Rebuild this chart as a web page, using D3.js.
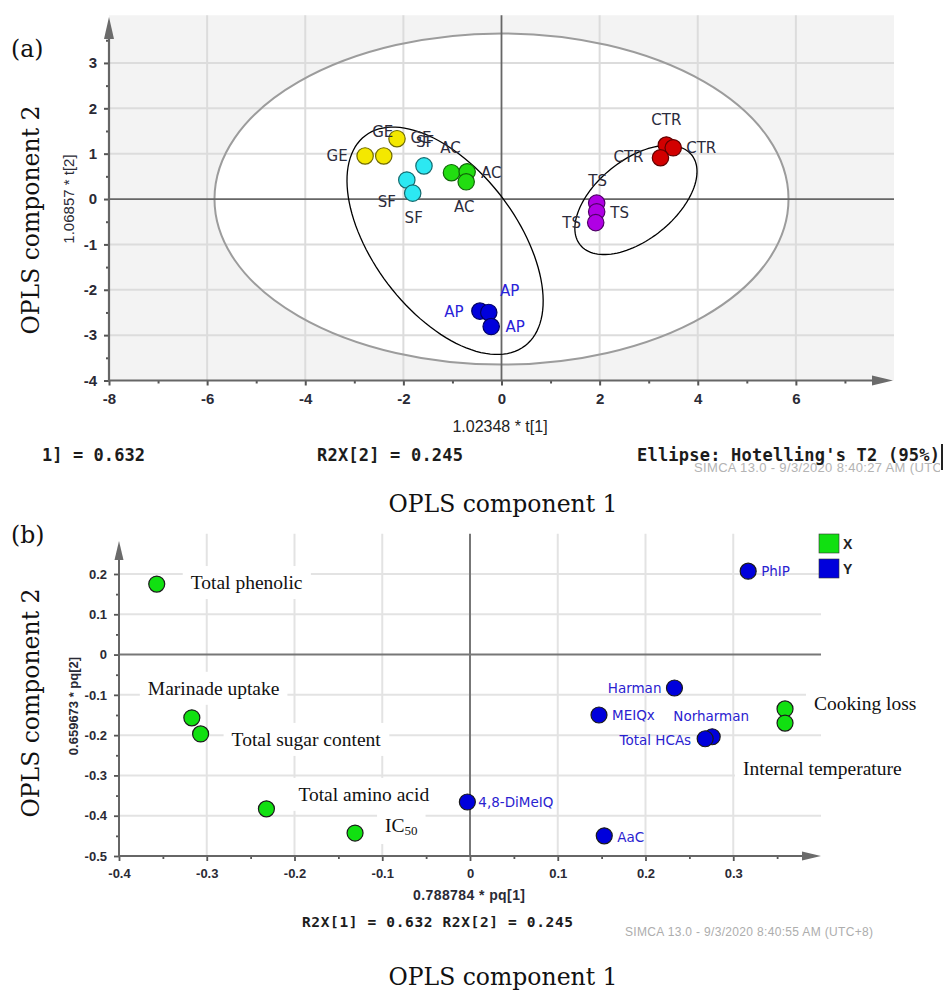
<!DOCTYPE html>
<html><head><meta charset="utf-8">
<script src="https://cdn.jsdelivr.net/npm/d3@7"></script>
<style>body{margin:0;background:#fff} svg{display:block}</style>
</head><body>
<svg id="chart" width="946" height="990"></svg>
<script>
// ---------- Panel (a): OPLS scores ----------
const scoreGroups = ["GE","GE","GE","SF","SF","SF","AC","AC","AC","CTR","CTR","CTR","TS","TS","TS","AP","AP","AP"];
const scoreT1 = [-2.78,-2.40,-2.13,-1.93,-1.81,-1.58,-1.02,-0.70,-0.72,3.36,3.50,3.24,1.94,1.94,1.92,-0.44,-0.26,-0.21];
const scoreT2 = [0.95,0.95,1.33,0.42,0.13,0.73,0.58,0.60,0.38,1.19,1.13,0.91,-0.09,-0.28,-0.52,-2.47,-2.50,-2.81];
const groupNames = ["GE","SF","AC","CTR","TS","AP"];
const groupColors = ["#f4e800","#2ce8f2","#22dd11","#d20000","#b000e4","#0000dc"];
const xTicksA = [-8,-6,-4,-2,0,2,4,6];
const xMinorA = [-7,-5,-3,-1,1,3,5,7];
const yTicksA = [-4,-3,-2,-1,0,1,2,3];
const yMinorA = [-3.5,-2.5,-1.5,-0.5,0.5,1.5,2.5,3.5];
const hotelling = {rx: 5.85, ry: 3.65};

// ---------- Panel (b): OPLS loadings ----------
const loadingNames = ["Total phenolic","Marinade uptake","Total sugar content","Total amino acid","IC50","Cooking loss","Internal temperature",
  "PhIP","Harman","MEIQx","Norharman","Total HCAs","4,8-DiMeIQ","AaC"];
const loadingType = ["X","X","X","X","X","X","X","Y","Y","Y","Y","Y","Y","Y"];
const pq1 = [-0.357,-0.317,-0.307,-0.232,-0.131,0.359,0.359,0.317,0.233,0.147,0.276,0.268,-0.003,0.153];
const pq2 = [0.175,-0.157,-0.197,-0.383,-0.443,-0.135,-0.170,0.207,-0.083,-0.150,-0.204,-0.209,-0.366,-0.450];
const legendKeys = ["X","Y"];
const legendColors = ["#11e011","#0000dc"];
const xTicksB = [-0.4,-0.3,-0.2,-0.1,0,0.1,0.2,0.3];
const xMinorB = [-0.35,-0.25,-0.15,-0.05,0.05,0.15,0.25,0.35];
const yTicksB = [-0.5,-0.4,-0.3,-0.2,-0.1,0,0.1,0.2];
const yMinorB = [-0.45,-0.35,-0.25,-0.15,-0.05,0.05,0.15,0.25];

// ---------- layout (label placement, annotation ellipses) ----------
const scoreLabelOffsets = [[-28,0],[-1,-24],[24,-1],[-20,22],[1,25],[1,-24],[-1,-25],[24,1],[-2,25],
  [0,-25],[28,0],[-32,-1],[1,-22],[23,1],[-24,0],[-26,1],[21,-21],[24,0]];
const groupEllipses = [{cx:-1.15, cy:-0.92, a:2.69, b:1.46, angle:52.8},{cx:2.74, cy:-0.02, a:1.46, b:0.81, angle:-38.9}];
// [dx, dy, anchor]
const loadingLabelPos = [[34,5,"start"],[-44,-23,"start"],[31,12,"start"],[32,-8,"start"],[30,-1,"start"],[29,1,"start"],[-42,52,"start"],
  [13,0,"start"],[-13,0,"end"],[13,0,"start"],[-1,-21,"middle"],[-14,1,"end"],[11,0,"start"],[13,1,"start"]];

const svg = d3.select("#chart");
const serif = "'DejaVu Serif', serif";
const sans = "'DejaVu Sans', sans-serif";
const lsans = "'Liberation Sans', Arial, sans-serif";
const mono = "'DejaVu Sans Mono', monospace";

function arrowUp(g, x, y, len, hw){ g.append("path").attr("d",`M${x},${y}L${x-hw},${y+len}L${x+hw},${y+len}Z`).attr("fill","#6b6b6b"); }
function arrowRight(g, x, y, len, hw){ g.append("path").attr("d",`M${x},${y}L${x-len},${y-hw}L${x-len},${y+hw}Z`).attr("fill","#6b6b6b"); }
function ellipsePath(xs, ys, e){
  const kx = xs(1)-xs(0), ky = ys(0)-ys(1);
  const cx = xs(e.cx), cy = ys(e.cy), a = e.a*kx, b = e.b*kx, th = e.angle*Math.PI/180;
  const pts = d3.range(0, 361, 3).map(t=>{ const r=t*Math.PI/180; const u=a*Math.cos(r), v=b*Math.sin(r);
    return [cx+u*Math.cos(th)-v*Math.sin(th), cy+u*Math.sin(th)+v*Math.cos(th)]; });
  return d3.line()(pts)+"Z";
}

// =============== PANEL A ===============
const xA = d3.scaleLinear().domain([-8, 8]).range([109, 894]);
const yA = d3.scaleLinear().domain([-4, 4.05]).range([380.5, 15.3]);
const gA = svg.append("g");
gA.append("rect").attr("x",xA(-8)).attr("y",yA(4.05)).attr("width",xA(8)-xA(-8)).attr("height",yA(-4)-yA(4.05)).attr("fill","#f3f3f3");
gA.append("ellipse").attr("cx",xA(0)).attr("cy",yA(0)).attr("rx",xA(hotelling.rx)-xA(0)).attr("ry",yA(0)-yA(hotelling.ry)).attr("fill","#fff");
// grid
gA.selectAll(".gx").data(xTicksA.filter(d=>d!==0&&d!==-8)).join("line")
  .attr("x1",d=>xA(d)).attr("x2",d=>xA(d)).attr("y1",yA(4.05)).attr("y2",yA(-4)).attr("stroke","#dcdcdc").attr("stroke-width",2);
gA.selectAll(".gy").data(yTicksA.filter(d=>d!==0&&d!==-4)).join("line")
  .attr("x1",xA(-8)).attr("x2",xA(8)).attr("y1",d=>yA(d)).attr("y2",d=>yA(d)).attr("stroke","#dcdcdc").attr("stroke-width",2);
gA.append("ellipse").attr("cx",xA(0)).attr("cy",yA(0)).attr("rx",xA(hotelling.rx)-xA(0)).attr("ry",yA(0)-yA(hotelling.ry))
  .attr("fill","none").attr("stroke","#9c9c9c").attr("stroke-width",2);
// zero lines
gA.append("line").attr("x1",xA(0)).attr("x2",xA(0)).attr("y1",yA(4.05)).attr("y2",yA(-4)).attr("stroke","#666").attr("stroke-width",1.8);
gA.append("line").attr("x1",xA(-8)).attr("x2",xA(8)).attr("y1",yA(0)).attr("y2",yA(0)).attr("stroke","#666").attr("stroke-width",1.8);
// group ellipses
gA.selectAll(".ge").data(groupEllipses).join("path").attr("d",e=>ellipsePath(xA,yA,e))
  .attr("fill","none").attr("stroke","#000").attr("stroke-width",1.3);
// axes
const axA = gA.append("g");
const axXA = axA.append("g").attr("transform",`translate(0,${yA(-4)})`)
  .call(d3.axisBottom(xA).tickValues(xTicksA).tickSize(5).tickPadding(8).tickFormat(d=>String(d)));
const axXAm = axA.append("g").attr("transform",`translate(0,${yA(-4)})`).call(d3.axisBottom(xA).tickValues(xMinorA).tickSize(3).tickFormat(""));
const axYA = axA.append("g").attr("transform",`translate(${xA(-8)},0)`)
  .call(d3.axisLeft(yA).tickValues(yTicksA).tickSize(5).tickPadding(7).tickFormat(d=>String(d)));
const axYAm = axA.append("g").attr("transform",`translate(${xA(-8)},0)`).call(d3.axisLeft(yA).tickValues(yMinorA).tickSize(3).tickFormat(""));
[axXA,axXAm,axYA,axYAm].forEach(a=>{ a.select(".domain").remove(); a.selectAll("line").attr("stroke","#555").attr("stroke-width",2);
  a.selectAll("text").attr("font-family",lsans).attr("font-weight","bold").attr("font-size",15).attr("fill","#2a2a35"); });
axA.append("line").attr("x1",xA(-8)).attr("x2",xA(-8)).attr("y1",yA(-4)+1).attr("y2",35).attr("stroke","#666").attr("stroke-width",2.2);
arrowUp(axA, xA(-8), 17, 22, 5);
axA.append("line").attr("x1",xA(-8)-1).attr("x2",875).attr("y1",yA(-4)).attr("y2",yA(-4)).attr("stroke","#666").attr("stroke-width",2.2);
arrowRight(axA, 893, yA(-4), 21, 5);
// points
const scoreIdx = d3.range(scoreT1.length);
gA.selectAll(".pt").data(scoreIdx).join("circle")
  .attr("cx",i=>xA(scoreT1[i])).attr("cy",i=>yA(scoreT2[i])).attr("r",8.2)
  .attr("fill",i=>groupColors[groupNames.indexOf(scoreGroups[i])])
  .attr("stroke",i=>d3.color(groupColors[groupNames.indexOf(scoreGroups[i])]).darker(2.2)).attr("stroke-width",1.2);
gA.selectAll(".lb").data(scoreIdx).join("text")
  .attr("x",i=>xA(scoreT1[i])+scoreLabelOffsets[i][0]).attr("y",i=>yA(scoreT2[i])+scoreLabelOffsets[i][1])
  .attr("text-anchor","middle").attr("dominant-baseline","central")
  .attr("font-family",sans).attr("font-size",15)
  .attr("fill",i=>scoreGroups[i]==="AP"?"#2a22d8":"#2c2c3c").text(i=>scoreGroups[i]);
// axis titles & footer A
gA.append("text").attr("x",500).attr("y",432).attr("text-anchor","middle").attr("font-family",lsans).attr("font-size",16).attr("fill","#222").text("1.02348 * t[1]");
gA.append("text").attr("transform",`translate(74,${yA(0)}) rotate(-90)`).attr("text-anchor","middle").attr("font-family",lsans).attr("font-size",15).attr("fill","#2a2a35").text("1.06857 * t[2]");
gA.append("text").attr("x",42).attr("y",461).attr("font-family",mono).attr("font-weight","bold").attr("font-size",17).attr("textLength",103).attr("fill","#1c1c1c").text("1] = 0.632");
gA.append("text").attr("x",317).attr("y",461).attr("font-family",mono).attr("font-weight","bold").attr("font-size",17).attr("textLength",146).attr("fill","#1c1c1c").text("R2X[2] = 0.245");
svg.append("clipPath").attr("id","clipSim").append("rect").attr("x",0).attr("y",0).attr("width",940).attr("height",990);
gA.append("text").attr("x",694).attr("y",472).attr("clip-path","url(#clipSim)").attr("font-family",lsans).attr("font-size",13).attr("textLength",268).attr("fill","#b3b3b3").text("SIMCA 13.0 - 9/3/2020 8:40:27 AM (UTC+8)");
gA.append("text").attr("x",637).attr("y",461).attr("font-family",mono).attr("font-weight","bold").attr("font-size",17).attr("textLength",303).attr("fill","#1c1c1c").text("Ellipse: Hotelling's T2 (95%)");
gA.append("line").attr("x1",942).attr("x2",942).attr("y1",444).attr("y2",470).attr("stroke","#222").attr("stroke-width",2);

// =============== PANEL B ===============
const xB = d3.scaleLinear().domain([-0.4, 0.4]).range([119, 821]);
const yB = d3.scaleLinear().domain([-0.5, 0.3]).range([856, 533.7]);
const gB = svg.append("g");
gB.selectAll(".gx").data(xTicksB.filter(d=>d!==0&&d!==-0.4)).join("line")
  .attr("x1",d=>xB(d)).attr("x2",d=>xB(d)).attr("y1",yB(0.3)).attr("y2",yB(-0.5)).attr("stroke","#e3e3e3").attr("stroke-width",2);
gB.selectAll(".gy").data(yTicksB.filter(d=>d!==0&&d!==-0.5)).join("line")
  .attr("x1",xB(-0.4)).attr("x2",xB(0.4)).attr("y1",d=>yB(d)).attr("y2",d=>yB(d)).attr("stroke","#e3e3e3").attr("stroke-width",2);
gB.append("line").attr("x1",xB(0)).attr("x2",xB(0)).attr("y1",yB(0.3)).attr("y2",yB(-0.5)).attr("stroke","#777").attr("stroke-width",2);
gB.append("line").attr("x1",xB(-0.4)).attr("x2",xB(0.4)).attr("y1",yB(0)).attr("y2",yB(0)).attr("stroke","#777").attr("stroke-width",2);
// axes
const axB = gB.append("g");
const axXB = axB.append("g").attr("transform",`translate(0,${yB(-0.5)})`)
  .call(d3.axisBottom(xB).tickValues(xTicksB).tickSize(5).tickPadding(8).tickFormat(d=>String(d)));
const axXBm = axB.append("g").attr("transform",`translate(0,${yB(-0.5)})`).call(d3.axisBottom(xB).tickValues(xMinorB).tickSize(3).tickFormat(""));
const axYB = axB.append("g").attr("transform",`translate(${xB(-0.4)},0)`)
  .call(d3.axisLeft(yB).tickValues(yTicksB).tickSize(5).tickPadding(7).tickFormat(d=>String(d)));
const axYBm = axB.append("g").attr("transform",`translate(${xB(-0.4)},0)`).call(d3.axisLeft(yB).tickValues(yMinorB).tickSize(3).tickFormat(""));
[axXB,axXBm,axYB,axYBm].forEach(a=>{ a.select(".domain").remove(); a.selectAll("line").attr("stroke","#555").attr("stroke-width",1.8);
  a.selectAll("text").attr("font-family",lsans).attr("font-weight","bold").attr("font-size",13).attr("fill","#2a2a35"); });
axB.append("line").attr("x1",xB(-0.4)).attr("x2",xB(-0.4)).attr("y1",yB(-0.5)+1).attr("y2",558).attr("stroke","#666").attr("stroke-width",2);
arrowUp(axB, xB(-0.4), 541, 19, 4.5);
axB.append("line").attr("x1",xB(-0.4)-1).attr("x2",804).attr("y1",yB(-0.5)).attr("y2",yB(-0.5)).attr("stroke","#666").attr("stroke-width",2);
arrowRight(axB, 821, yB(-0.5), 19, 4.5);
// label background boxes (serif labels pasted with white boxes)
const lIdx = d3.range(pq1.length);
const xIdx = lIdx.filter(i=>loadingType[i]==="X");
const yIdx = lIdx.filter(i=>loadingType[i]==="Y");
const serifLabels = gB.selectAll(".sl").data(xIdx).join("text")
  .attr("x",i=>xB(pq1[i])+loadingLabelPos[i][0]).attr("y",i=>yB(pq2[i])+loadingLabelPos[i][1])
  .attr("text-anchor",i=>loadingLabelPos[i][2])
  .attr("font-family","'Liberation Serif','Times New Roman',serif").attr("font-size",19.5).attr("fill","#111")
  .each(function(i){ const t=d3.select(this); const nm=loadingNames[i];
    if(nm==="IC50"){ t.append("tspan").text("IC"); t.append("tspan").attr("font-size",13).attr("dy",3).text("50"); }
    else t.text(nm); });
serifLabels.each(function(){ const bb=this.getBBox();
  gB.insert("rect",".sl").attr("x",bb.x-8).attr("y",bb.y-6).attr("width",bb.width+16).attr("height",bb.height+12).attr("fill","#fff"); });
serifLabels.raise();
// points
const typeColor = t => legendColors[legendKeys.indexOf(t)];
const drawOrder = [0,1,2,3,4,5,6,7,8,9,10,11,12,13];
gB.selectAll(".lp").data(drawOrder).join("circle")
  .attr("cx",i=>xB(pq1[i])).attr("cy",i=>yB(pq2[i])).attr("r",8)
  .attr("fill",i=>typeColor(loadingType[i])).attr("stroke","#1a1a1a").attr("stroke-width",1.2);
gB.selectAll(".yl").data(yIdx).join("text")
  .attr("x",i=>xB(pq1[i])+loadingLabelPos[i][0]).attr("y",i=>yB(pq2[i])+loadingLabelPos[i][1])
  .attr("text-anchor",i=>loadingLabelPos[i][2]).attr("dominant-baseline","central")
  .attr("font-family",sans).attr("font-size",13.5).attr("fill","#2a22d0").text(i=>loadingNames[i]);
// legend
const lg = gB.append("g");
lg.selectAll("rect").data(legendKeys).join("rect").attr("x",819).attr("y",(d,i)=>534+i*25).attr("width",20).attr("height",19)
  .attr("fill",(d,i)=>legendColors[i]).attr("stroke","#333").attr("stroke-width",0.6);
lg.selectAll("text").data(legendKeys).join("text").attr("x",843).attr("y",(d,i)=>544+i*25).attr("dominant-baseline","central")
  .attr("font-family",lsans).attr("font-weight","bold").attr("font-size",14).attr("fill","#222").text(d=>d);
// titles & footer B
gB.append("text").attr("x",469).attr("y",900).attr("text-anchor","middle").attr("font-family",lsans).attr("font-weight","bold").attr("font-size",14).attr("textLength",112).attr("fill","#2a2a35").text("0.788784 * pq[1]");
gB.append("text").attr("transform",`translate(78,706) rotate(-90)`).attr("text-anchor","middle").attr("font-family",lsans).attr("font-weight","bold").attr("font-size",13).attr("fill","#2a2a35").text("0.659673 * pq[2]");
gB.append("text").attr("x",302).attr("y",927).attr("font-family",mono).attr("font-weight","bold").attr("font-size",14.5).attr("textLength",271).attr("fill","#1c1c1c").text("R2X[1] = 0.632 R2X[2] = 0.245");
gB.append("text").attr("x",625).attr("y",936).attr("font-family",lsans).attr("font-size",12).attr("textLength",248).attr("fill","#adadad").text("SIMCA 13.0 - 9/3/2020 8:40:55 AM (UTC+8)");

// =============== big serif titles ===============
const big = svg.append("g").attr("font-family",serif).attr("fill","#111");
big.append("text").attr("x",11).attr("y",57).attr("font-size",23.5).text("(a)");
big.append("text").attr("x",11).attr("y",543).attr("font-size",23.5).text("(b)");
big.append("text").attr("x",503).attr("y",512).attr("text-anchor","middle").attr("font-size",23.5).text("OPLS component 1");
big.append("text").attr("x",503).attr("y",985).attr("text-anchor","middle").attr("font-size",23.5).text("OPLS component 1");
big.append("text").attr("transform","translate(39,220) rotate(-90)").attr("text-anchor","middle").attr("font-size",23.5).text("OPLS component 2");
big.append("text").attr("transform","translate(39,703) rotate(-90)").attr("text-anchor","middle").attr("font-size",23.5).text("OPLS component 2");
</script>
</body></html>
